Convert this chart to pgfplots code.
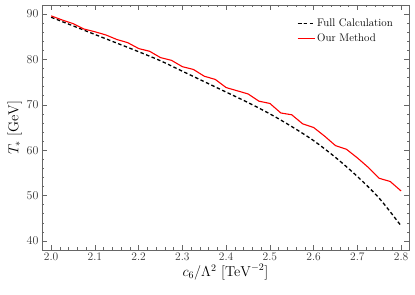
\documentclass[border=0pt]{standalone}
\usepackage{pgfplots}
\pgfplotsset{compat=1.18}
\begin{document}
\begin{tikzpicture}
\begin{axis}[
  name=ax,
  scale only axis,
  width=367pt, height=245pt,
  xmin=1.979, xmax=2.818,
  ymin=38, ymax=92,
  xtick={2.0,2.1,...,2.8},
  xticklabels={2.0,2.1,2.2,2.3,2.4,2.5,2.6,2.7,2.8},
  ytick={40,50,...,90},
  minor x tick num=4,
  minor y tick num=4,
  tick align=inside,
  major tick length=5pt,
  minor tick length=2.5pt,
  every tick/.style={black!60, line width=0.5pt},
  axis line style={black!60, line width=0.9pt},
  tick label style={font=\fontsize{11.5}{13}\selectfont, text=black!80},
  xticklabel style={yshift=1pt},
  xlabel={$c_6/\Lambda^2\ [\mathrm{TeV}^{-2}]$},
  ylabel={$T_*\ [\mathrm{GeV}]$},
  label style={font=\Large},
  xlabel style={yshift=3pt},
  ylabel style={yshift=-2pt},
  legend style={draw=none, fill=none, at={(0.97,0.96)}, anchor=north east, font=\fontsize{11}{13}\selectfont, row sep=1.5pt},
  legend cell align=left,
]
\addplot[black, line width=1.3pt, dash pattern=on 3.5pt off 2.5pt, smooth] coordinates {
(2.00,89.3) (2.05,87.4) (2.10,85.5) (2.15,83.6) (2.20,81.7) (2.25,79.7)
(2.30,77.4) (2.35,75.1) (2.40,72.8) (2.45,70.5) (2.50,68.0) (2.55,65.2)
(2.60,62.1) (2.65,58.4) (2.70,54.2) (2.75,49.4) (2.80,43.3)
};
\addlegendentry{Full Calculation}
\addplot[red, line width=1.1pt] coordinates {
(2.000,89.6) (2.025,88.7) (2.050,87.9) (2.075,86.7) (2.100,86.1) (2.125,85.4)
(2.150,84.4) (2.175,83.7) (2.200,82.4) (2.225,81.8) (2.250,80.4) (2.275,79.8)
(2.300,78.4) (2.325,77.8) (2.350,76.3) (2.375,75.6) (2.400,73.8) (2.425,73.1)
(2.450,72.4) (2.475,70.8) (2.500,70.3) (2.525,68.2) (2.550,67.8) (2.575,65.8)
(2.600,65.0) (2.625,63.1) (2.650,61.0) (2.675,60.2) (2.700,58.3) (2.725,56.2)
(2.750,53.8) (2.775,53.1) (2.800,51.0)
};
\addlegendentry{Our Method}
\end{axis}
\pgfresetboundingbox
\path ([shift={(-42pt,-45pt)}]ax.south west) rectangle ([shift={(6pt,5pt)}]ax.north east);
\end{tikzpicture}
\end{document}
